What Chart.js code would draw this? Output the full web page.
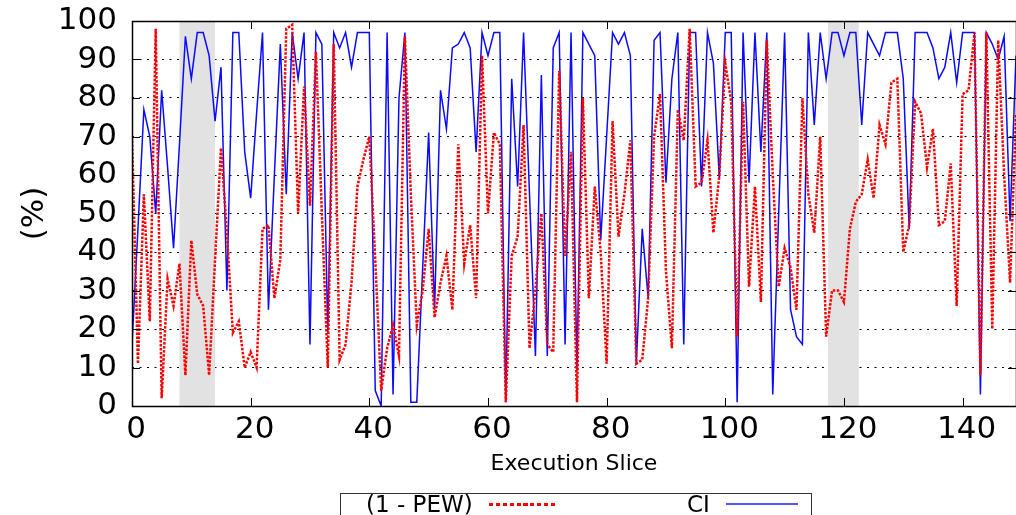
<!DOCTYPE html>
<html>
<head>
<meta charset="utf-8">
<script src="https://cdn.jsdelivr.net/npm/chart.js@4/dist/chart.umd.min.js"></script>
<style>
  body { margin: 0; width: 1016px; height: 515px; overflow: hidden; background: #fff; font-family: "DejaVu Sans", sans-serif; }
  #wrap { position: absolute; left: 0; top: 0; width: 1016px; height: 515px; }
  .lg { position: absolute; font-size: 23px; line-height: 24px; color: #000; white-space: nowrap; }
  #legendBox { position: absolute; left: 340px; top: 493px; width: 472px; height: 40px; border: 1px solid #333; box-sizing: border-box; }
  #pewSample { position: absolute; left: 489px; top: 503px; width: 69px; height: 3px;
    background: repeating-linear-gradient(90deg, #ff0000 0 4px, transparent 4px 6.9px); }
  #ciSample { position: absolute; left: 726px; top: 503px; width: 72px; height: 2px; background: #5555ff; }
</style>
</head>
<body>
<div id="wrap"><canvas id="pewChart"></canvas></div>
<div id="legendBox"></div>
<span class="lg" style="left:366px; top:492px;">(1 - PEW)</span>
<div id="pewSample"></div>
<span class="lg" style="left:687px; top:492px;">CI</span>
<div id="ciSample"></div>
<script>
// (1 - PEW) per execution slice
const pew = [
    70, 11, 55, 22, 98, 2, 33, 26, 37, 8, 43, 29, 26, 8, 38, 67, 45, 19, 22, 10, 14, 10, 46, 47, 28, 38,
    98, 99, 50, 83, 52, 92, 50, 10, 94, 12, 16, 32, 57, 64, 70, 38, 4, 15, 21, 13, 96, 55, 21, 30, 46,
    23, 32, 39, 25, 68, 37, 47, 28, 91, 50, 71, 68, 1, 39, 44, 73, 15, 30, 50, 16, 14, 87, 39, 66, 1,
    80, 28, 57, 40, 11, 74, 44, 55, 69, 11, 12, 28, 70, 81, 35, 15, 77, 69, 98, 57, 58, 69, 45, 60, 89,
    79, 18, 79, 31, 57, 27, 95, 60, 31, 41, 36, 25, 80, 55, 45, 70, 18, 30, 30, 27, 46, 53, 55, 64, 54,
    73, 68, 84, 85, 40, 47, 79, 76, 62, 72, 47, 48, 63, 26, 81, 82, 97, 8, 97, 20, 95, 60, 32, 76
];
// CI per execution slice
const ci = [
    16, 46, 77, 70, 50, 82, 62, 41, 68, 96, 85, 97, 97, 91, 74, 88, 30, 97, 97, 66, 54, 76, 97, 25, 60, 94,
    55, 97, 85, 97, 16, 97, 94, 19, 97, 93, 97, 88, 97, 97, 97, 4, 0, 97, 3, 80, 97, 1, 1, 36, 71,
    25, 82, 72, 93, 94, 97, 93, 66, 97, 91, 97, 97, 1, 85, 57, 97, 55, 13, 86, 13, 93, 97, 16, 97, 9,
    97, 94, 91, 43, 70, 97, 94, 97, 91, 11, 46, 28, 95, 97, 58, 85, 97, 16, 97, 97, 57, 97, 89, 59, 97,
    97, 1, 97, 58, 97, 66, 97, 3, 50, 97, 25, 18, 16, 97, 73, 97, 85, 97, 97, 91, 97, 97, 73, 97, 94,
    91, 97, 97, 97, 85, 46, 97, 97, 97, 93, 85, 88, 97, 84, 97, 97, 97, 3, 97, 94, 90, 96, 48, 91
];
const slices = pew.map((_, i) => i);
const shaded = [[8, 14], [117.3, 122.5]];
const xTicks = [0, 20, 40, 60, 80, 100, 120, 140];
const yTicks = [0, 10, 20, 30, 40, 50, 60, 70, 80, 90, 100];

const frame = {
    id: 'frame',
    beforeDatasetsDraw(chart) {
        const { ctx, chartArea: a, scales: { x } } = chart;
        ctx.save();
        ctx.fillStyle = '#e2e2e2';
        shaded.forEach(([s, e]) => {
            const x0 = x.getPixelForValue(s);
            const x1 = x.getPixelForValue(e);
            ctx.fillRect(x0, a.top, x1 - x0, a.bottom - a.top);
        });
        ctx.restore();
    },
    afterDraw(chart) {
        const { ctx, chartArea: a, scales: { x, y } } = chart;
        ctx.save();
        ctx.strokeStyle = '#000';
        ctx.lineWidth = 1;
        ctx.beginPath();
        xTicks.forEach(v => {
            const px = Math.round(x.getPixelForValue(v)) + 0.5;
            ctx.moveTo(px, a.bottom); ctx.lineTo(px, a.bottom - 8);
            ctx.moveTo(px, a.top); ctx.lineTo(px, a.top + 8);
        });
        yTicks.forEach(v => {
            const py = Math.round(y.getPixelForValue(v)) + 0.5;
            ctx.moveTo(a.left, py); ctx.lineTo(a.left + 8, py);
            ctx.moveTo(a.right, py); ctx.lineTo(a.right - 8, py);
        });
        ctx.stroke();
        ctx.lineWidth = 1.5;
        ctx.strokeRect(a.left + 0.5, a.top + 0.5, a.right - a.left, a.bottom - a.top);
        ctx.restore();
    }
};

const ctx = document.getElementById('pewChart').getContext('2d');
new Chart(ctx, {
    type: 'line',
    data: {
        labels: slices,
        datasets: [{
            label: '(1 - PEW)',
            data: pew,
            borderColor: '#ff0000',
            borderWidth: 2.5,
            borderDash: [2.5, 1.5],
            pointRadius: 0,
            tension: 0,
            fill: false
        }, {
            label: 'CI',
            data: ci,
            borderColor: '#0a0aff',
            borderWidth: 1.5,
            pointRadius: 0,
            tension: 0,
            fill: false
        }]
    },
    options: {
        responsive: true,
        maintainAspectRatio: false,
        animation: false,
        layout: { padding: { top: 21, right: 0, bottom: 0, left: 0 } },
        plugins: {
            legend: { display: false },
            tooltip: { enabled: false }
        },
        scales: {
            x: {
                type: 'linear',
                min: 0,
                max: 149,
                afterBuildTicks: s => { s.ticks = xTicks.map(v => ({ value: v })); },
                afterFit: s => { s.height = 109; },
                grid: { display: false, drawTicks: false },
                border: { display: false },
                ticks: {
                    color: '#000',
                    padding: 5,
                    labelOffset: 4,
                    maxRotation: 0,
                    autoSkip: false,
                    font: { family: 'DejaVu Sans', size: 31 }
                },
                title: {
                    display: true,
                    text: 'Execution Slice',
                    color: '#000',
                    font: { family: 'DejaVu Sans', size: 22 },
                    padding: { top: 0, bottom: 38 }
                }
            },
            y: {
                min: 0,
                max: 100,
                afterBuildTicks: s => { s.ticks = yTicks.map(v => ({ value: v })); },
                afterFit: s => { s.width = 132; },
                grid: { color: '#000', lineWidth: 1, drawTicks: true, tickLength: 15, tickColor: 'rgba(0,0,0,0)' },
                border: { display: false, dash: [2, 5.5] },
                ticks: {
                    color: '#000',
                    padding: 0,
                    autoSkip: false,
                    font: { family: 'DejaVu Sans', size: 31 }
                },
                title: {
                    display: true,
                    text: '(%)',
                    color: '#000',
                    font: { family: 'DejaVu Sans', size: 31 },
                    padding: { top: 16, bottom: 0 }
                }
            }
        }
    },
    plugins: [frame]
});
</script>
</body>
</html>
